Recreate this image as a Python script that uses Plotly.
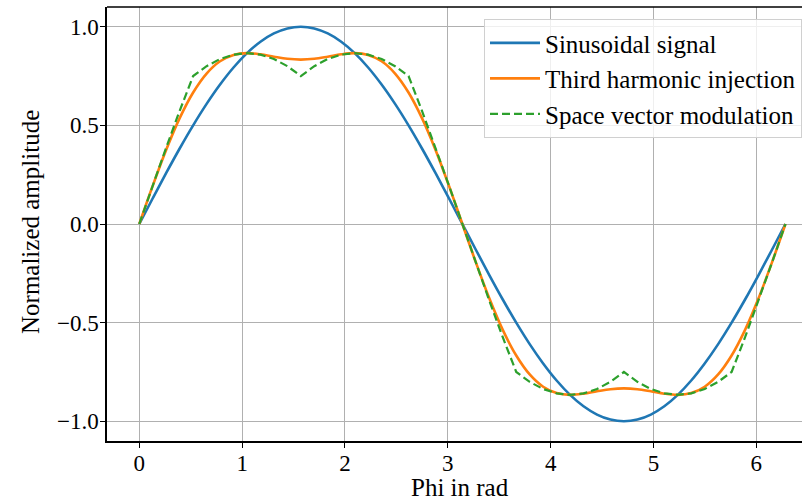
import plotly.graph_objects as go

# Phi samples (rad), 7.5 degree steps from 0 to 2*pi
phi = [0.0000, 0.1309, 0.2618, 0.3927, 0.5236, 0.6545, 0.7854, 0.9163, 1.0472, 1.1781,
       1.3090, 1.4399, 1.5708, 1.7017, 1.8326, 1.9635, 2.0944, 2.2253, 2.3562, 2.4871,
       2.6180, 2.7489, 2.8798, 3.0107, 3.1416, 3.2725, 3.4034, 3.5343, 3.6652, 3.7961,
       3.9270, 4.0579, 4.1888, 4.3197, 4.4506, 4.5815, 4.7124, 4.8433, 4.9742, 5.1051,
       5.2360, 5.3669, 5.4978, 5.6287, 5.7596, 5.8905, 6.0214, 6.1523, 6.2832]

sinusoidal = [0.0, 0.1305, 0.2588, 0.3827, 0.5, 0.6088, 0.7071, 0.7934, 0.8660, 0.9239,
              0.9659, 0.9914, 1.0, 0.9914, 0.9659, 0.9239, 0.8660, 0.7934, 0.7071, 0.6088,
              0.5, 0.3827, 0.2588, 0.1305, 0.0, -0.1305, -0.2588, -0.3827, -0.5, -0.6088,
              -0.7071, -0.7934, -0.8660, -0.9239, -0.9659, -0.9914, -1.0, -0.9914, -0.9659, -0.9239,
              -0.8660, -0.7934, -0.7071, -0.6088, -0.5, -0.3827, -0.2588, -0.1305, 0.0]

third_harmonic = [0.0, 0.1943, 0.3767, 0.5367, 0.6667, 0.7628, 0.8250, 0.8572, 0.8660, 0.8601,
                  0.8480, 0.8374, 0.8333, 0.8374, 0.8480, 0.8601, 0.8660, 0.8572, 0.8250, 0.7628,
                  0.6667, 0.5367, 0.3767, 0.1943, 0.0, -0.1943, -0.3767, -0.5367, -0.6667, -0.7628,
                  -0.8250, -0.8572, -0.8660, -0.8601, -0.8480, -0.8374, -0.8333, -0.8374, -0.8480, -0.8601,
                  -0.8660, -0.8572, -0.8250, -0.7628, -0.6667, -0.5367, -0.3767, -0.1943, 0.0]

space_vector = [0.0, 0.1958, 0.3882, 0.5740, 0.75, 0.8001, 0.8365, 0.8586, 0.8660, 0.8586,
                0.8365, 0.8001, 0.75, 0.8001, 0.8365, 0.8586, 0.8660, 0.8586, 0.8365, 0.8001,
                0.75, 0.5740, 0.3882, 0.1958, 0.0, -0.1958, -0.3882, -0.5740, -0.75, -0.8001,
                -0.8365, -0.8586, -0.8660, -0.8586, -0.8365, -0.8001, -0.75, -0.8001, -0.8365, -0.8586,
                -0.8660, -0.8586, -0.8365, -0.8001, -0.75, -0.5740, -0.3882, -0.1958, 0.0]

x_ticks = [0, 1, 2, 3, 4, 5, 6]
y_ticks = [-1.0, -0.5, 0.0, 0.5, 1.0]
y_tick_text = ["\u22121.0", "\u22120.5", "0.0", "0.5", "1.0"]
x_title = "Phi in rad"
y_title = "Normalized amplitude"

FONT = "Liberation Serif, Times New Roman, serif"
FS = 25
TFS = 23

fig = go.Figure()
fig.add_trace(go.Scatter(x=phi, y=sinusoidal, mode="lines", name="Sinusoidal signal",
                         line=dict(color="#1f77b4", width=2.6, shape="spline")))
fig.add_trace(go.Scatter(x=phi, y=third_harmonic, mode="lines", name="Third harmonic injection",
                         line=dict(color="#ff7f0e", width=2.6, shape="spline")))
fig.add_trace(go.Scatter(x=phi, y=space_vector, mode="lines", name="Space vector modulation",
                         line=dict(color="#2ca02c", width=2.2, dash="8px,4px")))

fig.update_layout(
    width=802, height=502,
    margin=dict(l=107, r=0, t=7, b=61, autoexpand=False),
    paper_bgcolor="white", plot_bgcolor="white",
    font=dict(family=FONT, size=FS, color="black"),
    showlegend=True,
    legend=dict(x=1.0, y=0.972, xanchor="right", yanchor="top",
                bgcolor="rgba(255,255,255,0.8)", bordercolor="#d0d0d0", borderwidth=1,
                font=dict(family=FONT, size=FS, color="black"),
                itemwidth=50, tracegroupgap=0),
    xaxis=dict(range=[-0.314, 6.444], tickvals=x_ticks, ticks="outside", ticklen=5,
               tickwidth=1.2, tickcolor="black", showline=True, linecolor="black",
               linewidth=1.5, mirror=False, showgrid=True, gridcolor="#b0b0b0",
               gridwidth=1, zeroline=False, automargin=False,
               tickfont=dict(family=FONT, size=TFS, color="black"), ticklabelstandoff=-4),
    yaxis=dict(range=[-1.1, 1.1], tickvals=y_ticks, ticktext=y_tick_text, ticks="outside",
               ticklen=5, tickwidth=1.2, tickcolor="black", showline=True, linecolor="black",
               linewidth=1.5, showgrid=True, gridcolor="#b0b0b0", gridwidth=1,
               zeroline=False, automargin=False,
               tickfont=dict(family=FONT, size=TFS, color="black"), ticklabelstandoff=-3),
)
# top spine
fig.add_shape(type="line", xref="paper", yref="paper", x0=0, x1=1, y0=1, y1=1,
              line=dict(color="black", width=1.5))

# axis titles as annotations (plot area spans 107..802 px horizontally, 7..441 vertically)
fig.add_annotation(text=x_title, xref="paper", yref="paper", x=(460 - 107) / 695, y=0,
                   xanchor="center", yanchor="bottom", yshift=-61, borderpad=0, showarrow=False,
                   font=dict(family=FONT, size=FS, color="black"))
fig.add_annotation(text=y_title, xref="paper", yref="paper", x=(30 - 107) / 695, y=(441 - 222) / 434,
                   xanchor="center", yanchor="middle", textangle=-90, showarrow=False,
                   font=dict(family=FONT, size=FS, color="black"))

fig.write_html("out.html")
